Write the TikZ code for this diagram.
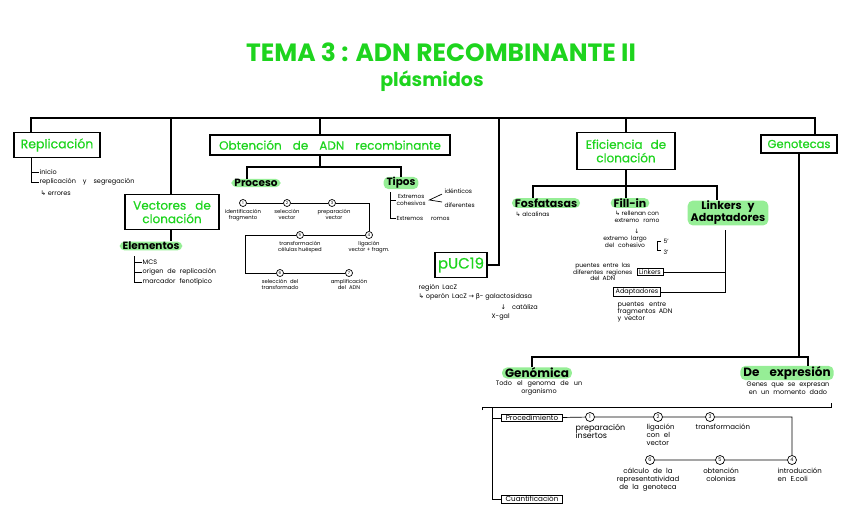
\documentclass[tikz,border=0pt]{standalone}
\usepackage{fontspec}
\setmainfont{Poppins}
\newfontfamily\symfont{DejaVu Sans}
\newfontfamily\medfont{Poppins}[FakeBold=0.6]
\usetikzlibrary{positioning}
\definecolor{leaf}{RGB}{30,212,30}
\definecolor{mint}{RGB}{150,238,150}
\newcommand{\ar}[1]{{\symfont #1}}

\begin{document}
\begin{tikzpicture}[x=1pt,y=-1pt,
  box/.style={draw,line width=1.5pt,text=leaf,font=\medfont\fontsize{12}{13.5}\selectfont,align=center,inner sep=1pt},
  hl/.style={fill=mint,rounded corners=5pt,font=\fontsize{10.5}{11.5}\selectfont\bfseries,align=center,inner xsep=3pt,inner ysep=0.5pt},
  note/.style={font=\fontsize{5.3}{6.2}\selectfont,align=center,inner sep=0.5pt},
  bignote/.style={font=\fontsize{7}{8}\selectfont,align=left,inner sep=0.5pt},
  stepc/.style={circle,draw,line width=0.7pt,inner sep=0pt,minimum size=7pt,font=\fontsize{4}{4}\selectfont},
  tag/.style={draw,line width=0.7pt,font=\fontsize{6.5}{7}\selectfont,inner xsep=2pt,inner ysep=1pt},
  link/.style={line width=1.4pt},
  wire/.style={line width=0.7pt}]
  \useasboundingbox (0,0) rectangle (848,530);

  % title
  \node[text=leaf,font=\fontsize{25}{27}\selectfont\bfseries] (title) at (441,52) {TEMA 3 : ADN RECOMBINANTE II};
  \node[text=leaf,font=\fontsize{19}{21}\selectfont\bfseries] (sub) at (432,81) {plásmidos};

  % main boxes
  \node[box,minimum width=86pt,minimum height=25pt,font=\medfont\fontsize{12.5}{13}\selectfont] (repl) at (57,145) {Replicación};
  \node[box,minimum width=94pt,minimum height=35pt] (vect) at (172,212) {Vectores\hspace{9pt}de\\clonación};
  \node[box,minimum width=240pt,minimum height=20pt] (obt) at (330,145) {Obtención\hspace{11pt}de\hspace{11pt}ADN\hspace{11pt}recombinante};
  \node[box,minimum width=52pt,minimum height=25pt,font=\medfont\fontsize{15}{16}\selectfont] (puc) at (461,265) {pUC19};
  \node[box,minimum width=98pt,minimum height=37pt] (efic) at (626,151) {Eficiencia\hspace{8pt}de\\clonación};
  \node[box,minimum width=76pt,minimum height=18pt,font=\medfont\fontsize{11.5}{12}\selectfont] (genot) at (799,144) {Genotecas};

  \coordinate (t0) at (31,118);
  \coordinate (t5) at (815,118);
  \foreach \n/\x in {t1/171,t2/320,t3/499,t4/626}
    \coordinate (\n) at (\x,118);
  \draw[link] (repl.north -| t0) -- (t0) -- (t5) -- (t5 |- genot.north);
  \draw[link] (t1) -- (t1 |- vect.north);
  \draw[link] (t2) -- (t2 |- obt.north);
  \draw[link] (t3) |- (puc.east);
  \draw[link] (t4) -- (efic.north);

  % replicacion
  \node[note,anchor=west,font=\fontsize{6.5}{7}\selectfont] (ini) at (39,172) {inicio};
  \node[note,anchor=west,font=\fontsize{6.5}{7}\selectfont] (rys) at (39,182) {replicación\hspace{7pt}y\hspace{7pt}segregación};
  \node[note,anchor=west,font=\fontsize{6.5}{7}\selectfont] (err) at (40,193) {\ar{↳} errores};
  \draw[wire] (t0 |- repl.south) |- (rys.west);
  \draw[wire] (t0 |- ini) -- (ini.west);

  % vectores
  \node[hl] (elem) at (151,246) {Elementos};
  \draw[link] (t1 |- vect.south) -- (t1 |- elem.north);
  \node[note,anchor=west,font=\fontsize{6.5}{7}\selectfont] (mcs) at (142,262) {MCS};
  \node[note,anchor=west,font=\fontsize{6.5}{7}\selectfont] (ori) at (142,272) {origen\hspace{4pt}de\hspace{4pt}replicación};
  \node[note,anchor=west,font=\fontsize{6.5}{7}\selectfont] (mar) at (142,282) {marcador\hspace{4pt}fenotípico};
  \coordinate (eb) at (134,256);
  \draw[wire] (eb) |- (mar.west);
  \draw[wire] (eb |- mcs) -- (mcs.west);
  \draw[wire] (eb |- ori) -- (ori.west);

  % obtencion
  \node[hl] (proc) at (256,183) {Proceso};
  \node[hl] (tip) at (401,183) {Tipos};
  \coordinate (oj) at (320,167);
  \draw[link] (t2 |- obt.south) -- (oj);
  \draw[link] ([xshift=-9pt]proc.north) |- (oj) -| (tip.north);

  \node[stepc] (p1) at (243,203) {1};
  \node[stepc] (p2) at (287,203) {2};
  \node[stepc] (p3) at (332,203) {3};
  \node[stepc] (p4) at (369,235) {4};
  \node[stepc] (p5) at (300,235) {5};
  \node[stepc] (p6) at (280,273) {6};
  \node[stepc] (p7) at (349,273) {7};
  \draw[wire] (p1) -- (p2) -- (p3) -| (p4) -- (p5);
  \draw[wire] (p5) -- ++(-55,0) |- (p6) -- (p7);
  \node[note,below=1.5pt of p1] {identificación\\fragmento};
  \node[note,below=1.5pt of p2] {selección\\vector};
  \node[note,below=1.5pt of p3,xshift=2pt] {preparación\\vector};
  \node[note,below=1.5pt of p4] {ligación\\vector + fragm.};
  \node[note,below=1.5pt of p5] {transformación\\células huésped};
  \node[note,below=1.5pt of p6] {selección\hspace{3pt}del\\transformado};
  \node[note,below=1.5pt of p7] {amplificación\\del\hspace{3pt}ADN};

  \node[note,anchor=west,font=\fontsize{5.8}{6.6}\selectfont] (coh) at (396,200) {Extremos\\cohesivos};
  \node[note,anchor=west,font=\fontsize{5.8}{6.6}\selectfont] (rom) at (396,218) {Extremos\hspace{8pt}romos};
  \node[note,anchor=west,font=\fontsize{6}{7}\selectfont] (idn) at (444,191) {idénticos};
  \node[note,anchor=west,font=\fontsize{6}{7}\selectfont] (dif) at (444,205) {diferentes};
  \coordinate (tb) at (390,192);
  \draw[wire] (tb) |- (rom.west);
  \draw[wire] (tb |- coh) -- (coh.west);
  \draw[wire] ([xshift=-2pt]idn.south west) -- ([xshift=3pt]coh.east) -- ([xshift=-2pt]dif.north west);

  % pUC19
  \node[note,anchor=west,font=\fontsize{6.5}{7}\selectfont] (lac) at (418,288) {región\hspace{3pt}LacZ};
  \node[note,anchor=west,font=\fontsize{6.5}{7}\selectfont] (opr) at (418,297) {\ar{↳} operón\hspace{3pt}LacZ \ar{→} \ar{β}- galactosidasa};
  \node[note,anchor=west,font=\fontsize{6.5}{7}\selectfont] (cat) at (500,307) {\ar{↓}\hspace{6pt}catáliza};
  \node[note,anchor=west,font=\fontsize{6.5}{7}\selectfont] (xg) at (491,317) {X-gal};

  % eficiencia
  \node[hl,font=\fontsize{11}{12}\selectfont\bfseries] (fosf) at (546,203) {Fosfatasas};
  \node[hl,font=\fontsize{11}{12}\selectfont\bfseries] (fill) at (630,203) {Fill-in};
  \node[hl,font=\fontsize{11}{12}\selectfont\bfseries] (lnk) at (728,213) {Linkers\hspace{6pt}y\\Adaptadores};
  \coordinate (ej) at (626,186);
  \draw[link] (efic.south) -- (efic.south |- fill.north);
  \draw[link] ([xshift=-13pt]fosf.north) |- (ej) -| ([xshift=-11pt]lnk.north);

  \node[note,anchor=west,font=\fontsize{6}{7}\selectfont] (alc) at (515,214) {\ar{↳} alcalinas};
  \node[note,font=\fontsize{6}{6.8}\selectfont] (rel) at (637,217) {\ar{↳} rellenan con\\extremo\hspace{4pt}romo};
  \node[note,font=\fontsize{6}{6.8}\selectfont] (dn) at (637,231) {\ar{↓}};
  \node[note,font=\fontsize{6}{6.8}\selectfont] (lar) at (625,242) {extremo\hspace{3pt}largo\\del\hspace{4pt}cohesivo};
  \draw[wire] (661,241) -- (657,241) -- (657,250) -- (661,250);
  \node[note,anchor=west,font=\fontsize{6}{6.8}\selectfont] (c5) at (663,241) {5'};
  \node[note,anchor=west,font=\fontsize{6}{6.8}\selectfont] (c3) at (663,252) {3'};

  \node[tag] (lk) at (650,272) {Linkers};
  \node[tag] (ad) at (637,292) {Adaptadores};
  \coordinate (lv) at (725,230);
  \draw[wire] (lv) |- (ad.east);
  \draw[wire] (lk.east) -- (lk.east -| lv);
  \node[note,anchor=east,font=\fontsize{6}{6.5}\selectfont] (pdr) at (633,272) {puentes\hspace{3pt}entre\hspace{3pt}las\\diferentes\hspace{3pt}regiones\\del\hspace{3pt}ADN};
  \node[note,anchor=north west,align=left,font=\fontsize{6.5}{7}\selectfont] (pfv) at (617,301) {puentes\hspace{5pt}entre\\fragmentos\hspace{3pt}ADN\\y\hspace{3pt}vector};

  % genotecas
  \node[hl,font=\fontsize{12}{13}\selectfont\bfseries] (genom) at (537,373) {Genómica};
  \node[hl,font=\fontsize{12}{13}\selectfont\bfseries] (dexp) at (787,373) {De\hspace{10pt}expresión};
  \coordinate (gj) at (799,357);
  \draw[link] (genot.south) -- (gj);
  \draw[link] ([xshift=-5pt]genom.north) |- (gj) -| ([xshift=21pt]dexp.north);
  \node[note,font=\fontsize{6.5}{7.5}\selectfont] at (539,388) {Todo\hspace{5pt}el\hspace{5pt}genoma\hspace{5pt}de\hspace{5pt}un\\organismo};
  \node[note,font=\fontsize{6.5}{7.5}\selectfont] at (788,388) {Genes\hspace{4pt}que\hspace{4pt}se\hspace{4pt}expresan\\en\hspace{4pt}un\hspace{4pt}momento\hspace{4pt}dado};

  \draw[wire,line width=1pt] (482,410) -- (482,407) -- (831,407) -- (831,403);
  \node[tag,minimum width=61pt,font=\fontsize{7.2}{7.5}\selectfont] (prc) at (532,418) {Procedimiento};
  \node[tag,minimum width=61pt,font=\fontsize{7.2}{7.5}\selectfont] (cuan) at (532,499) {Cuantificación};
  \coordinate (bq) at (492,407);
  \draw[wire] (bq) |- (cuan.west);
  \draw[wire] (bq |- prc) -- (prc.west);

  \node[stepc,minimum size=9pt,font=\fontsize{5}{5}\selectfont] (g1) at (590,417) {1};
  \node[stepc,minimum size=9pt,font=\fontsize{5}{5}\selectfont] (g2) at (658,417) {2};
  \node[stepc,minimum size=9pt,font=\fontsize{5}{5}\selectfont] (g3) at (710,417) {3};
  \node[stepc,minimum size=9pt,font=\fontsize{5}{5}\selectfont] (g4) at (792,460) {4};
  \node[stepc,minimum size=9pt,font=\fontsize{5}{5}\selectfont] (g5) at (720,460) {5};
  \node[stepc,minimum size=9pt,font=\fontsize{5}{5}\selectfont] (g6) at (650,460) {6};
  \draw[wire] (prc) -- (g1) -- (g2) -- (g3) -| (g4) -- (g5) -- (g6);
  \node[bignote,anchor=north west,font=\fontsize{8}{8.5}\selectfont] at (575,423) {preparación\\insertos};
  \node[bignote,anchor=north west] at (646,423) {ligación\\con\hspace{4pt}el\\vector};
  \node[bignote,anchor=north west] at (695,423) {transformación};
  \node[bignote,anchor=north west] at (777,467) {introducción\\en\hspace{4pt}E.coli};
  \node[bignote,anchor=north,align=center] at (721,467) {obtención\\colonias};
  \node[bignote,anchor=north,align=center] at (648,467) {cálculo\hspace{4pt}de\hspace{4pt}la\\representatividad\\de\hspace{4pt}la\hspace{4pt}genoteca};
\end{tikzpicture}
\end{document}
